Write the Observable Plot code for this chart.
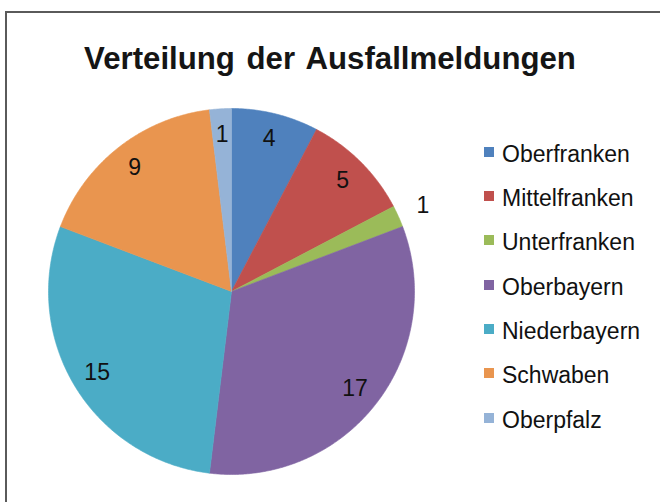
<!DOCTYPE html>
<html>
<head>
<meta charset="utf-8">
<script src="https://cdn.jsdelivr.net/npm/d3@7"></script>
<script src="https://cdn.jsdelivr.net/npm/@observablehq/plot@0.6"></script>
<style>
  html, body { margin: 0; padding: 0; background: #fff; width: 660px; height: 502px; overflow: hidden; }
  body { position: relative; font-family: "Liberation Sans", Arial, sans-serif; }
  #frame { position: absolute; left: 5px; top: 11px; width: 720px; height: 600px;
           border-left: 2px solid #5a5a5a; border-top: 2px solid #5a5a5a; pointer-events: none; }
  #title { position: absolute; left: 0; top: 42px; width: 660px; text-align: center;
           font-weight: bold; font-size: 32px; line-height: 32px; color: #151515;
           word-spacing: 3px; transform: scaleX(0.975); transform-origin: 330px 0; white-space: nowrap; }
  #chart { position: absolute; left: 0; top: 0; }
  #legend { position: absolute; left: 484px; top: 131px; }
  .row { display: flex; align-items: center; height: 44.33px; }
  .sw { width: 10px; height: 10px; margin-right: 8px; margin-top: -3px; }
  .lbl { font-size: 23px; color: #111; white-space: nowrap; margin-top: 2px; }
</style>
</head>
<body>
<div id="chart"></div>
<div id="title">Verteilung der Ausfallmeldungen</div>
<div id="legend"></div>
<div id="frame"></div>
<script>
const names = ["Oberfranken", "Mittelfranken", "Unterfranken", "Oberbayern", "Niederbayern", "Schwaben", "Oberpfalz"];
const values = [4, 5, 1, 17, 15, 9, 1];
const colors = ["#4F81BD", "#C0504D", "#9BBB59", "#8064A2", "#4BACC6", "#E9954F", "#95B3D7"];
const labelOutside = [false, false, true, false, false, false, false];

const W = 470, H = 502, cx = 231, cy = 291, R = 183;
const rIn = 157, rOut = 210;

const arcs = d3.pie().sort(null).value(d => d)(values);
const pts = [];
const labels = [];
arcs.forEach((a, i) => {
  const name = names[i];
  const span = a.endAngle - a.startAngle;
  const n = Math.max(2, Math.ceil(span / (Math.PI / 360)));
  pts.push({name, x: 0, y: 0});
  for (let k = 0; k <= n; k++) {
    const t = a.startAngle + span * k / n;
    pts.push({name, x: R * Math.sin(t), y: R * Math.cos(t)});
  }
  pts.push({name, x: 0, y: 0});
  const m = (a.startAngle + a.endAngle) / 2;
  const rl = labelOutside[i] ? rOut : rIn;
  labels.push({name, text: String(values[i]), x: rl * Math.sin(m), y: rl * Math.cos(m)});
});

const plot = Plot.plot({
  width: W,
  height: H,
  margin: 0,
  style: {background: "transparent", fontFamily: "Liberation Sans, Arial, sans-serif"},
  x: {domain: [-cx, W - cx], axis: null},
  y: {domain: [-(H - cy), cy], axis: null},
  color: {domain: names, range: colors},
  marks: [
    Plot.line(pts, {x: "x", y: "y", z: "name", fill: "name", stroke: "name", strokeWidth: 0.6, curve: "linear"}),
    Plot.text(labels, {x: "x", y: "y", text: "text", fontSize: 23, fill: "#111"})
  ]
});
document.getElementById("chart").appendChild(plot);

const legend = d3.select("#legend");
names.forEach((n, i) => {
  const row = legend.append("div").attr("class", "row");
  row.append("div").attr("class", "sw").style("background", colors[i]);
  row.append("div").attr("class", "lbl").text(n);
});
</script>
</body>
</html>
